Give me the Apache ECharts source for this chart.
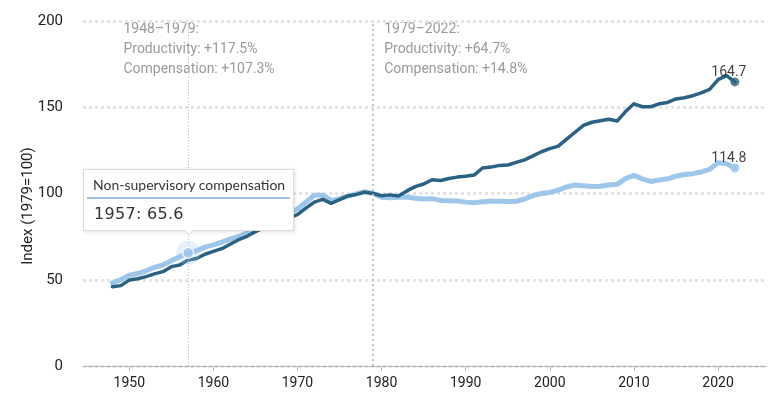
<!DOCTYPE html>
<html>
<head>
<meta charset="utf-8">
<script src="https://cdn.jsdelivr.net/npm/echarts@6/dist/echarts.min.js"></script>
<style>
  html, body { margin: 0; padding: 0; background: #fff; }
  #chart { width: 774px; height: 397px; }
</style>
</head>
<body>
<div id="chart"></div>
<script>
// years 1948..2022
const firstYear = 1948;
const productivity = [
  46.0, 46.6, 49.8, 50.6, 51.8, 53.4, 54.7, 57.6, 58.5, 61.4,
  62.3, 64.8, 66.4, 68.0, 70.6, 73.2, 75.2, 77.8, 80.2, 81.6,
  84.4, 86.0, 87.8, 91.5, 95.0, 96.6, 94.3, 96.5, 98.6, 99.5,
  100.8, 100.0, 98.7, 99.2, 98.5, 101.5, 104.0, 105.5, 108.0, 107.5,
  108.7, 109.5, 110.0, 110.7, 114.8, 115.3, 116.3, 116.5, 118.0, 119.5,
  121.8, 124.2, 126.0, 127.5, 131.5, 135.5, 139.5, 141.3, 142.2, 143.0,
  142.0, 147.5, 152.0, 150.3, 150.3, 152.0, 152.8, 154.8, 155.5, 156.7,
  158.3, 160.3, 166.0, 168.3, 164.7
];
const compensation = [
  48.2, 50.0, 52.7, 53.6, 55.2, 57.2, 58.6, 61.0, 63.3, 65.6,
  66.8, 68.9, 70.2, 71.8, 73.5, 75.2, 77.0, 79.2, 81.5, 83.5,
  86.5, 89.0, 91.0, 95.0, 99.0, 99.0, 96.0, 97.0, 98.5, 99.8,
  101.0, 100.0, 97.8, 97.5, 97.8, 98.0, 97.3, 96.8, 97.0, 96.0,
  95.8, 95.6, 95.0, 94.7, 95.2, 95.5, 95.5, 95.3, 95.5, 96.8,
  98.8, 100.0, 100.6, 102.0, 103.8, 104.9, 104.5, 104.0, 104.2, 104.9,
  105.3, 108.7, 110.5, 108.5, 107.0, 107.8, 108.5, 110.0, 111.0, 111.5,
  112.5, 114.0, 117.8, 117.3, 114.8
];
const years = productivity.map((_, i) => firstYear + i);
const xTicks = [1950, 1960, 1970, 1980, 1990, 2000, 2010, 2020];
const yTicks = [0, 50, 100, 150, 200];
const notes = [
  { year: 1948, lines: ['1948\u20131979:', 'Productivity: +117.5%', 'Compensation: +107.3%'] },
  { year: 1979, lines: ['1979\u20132022:', 'Productivity: +64.7%', 'Compensation: +14.8%'] }
];
const hoverYear = 1957;

const DARK = '#2b6283';
const LIGHT = '#9dc6ea';
const FONT = 'Roboto';

const chart = echarts.init(document.getElementById('chart'), null, { renderer: 'canvas' });

const last = years.length - 1;
const hi = years.indexOf(hoverYear);

const grid = { left: 83, right: 8, top: 21, bottom: 31 };
const xMin = 1944.5, xMax = 2025.7;
const xPix = y => grid.left + (y - xMin) / (xMax - xMin) * (774 - grid.left - grid.right);

const option = {
  animation: false,
  textStyle: { fontFamily: FONT },
  grid: grid,
  xAxis: {
    type: 'value',
    min: xMin,
    max: xMax,
    axisLine: { lineStyle: { color: '#b8b8b8', width: 1 } },
    axisTick: { show: true, length: 5, customValues: xTicks, lineStyle: { color: '#b8b8b8' } },
    axisLabel: {
      customValues: xTicks,
      formatter: v => String(v),
      color: '#222', fontSize: 14, margin: 10, fontFamily: FONT
    },
    splitLine: { show: false }
  },
  yAxis: {
    type: 'value',
    min: yTicks[0],
    max: yTicks[yTicks.length - 1],
    interval: 50,
    axisLine: { show: false },
    axisTick: { show: false },
    axisLabel: { color: '#222', fontSize: 15, margin: 20, fontFamily: FONT },
    splitLine: { lineStyle: { color: '#e3e3e3', width: 3, type: [3, 3] } }
  },
  tooltip: {
    trigger: 'item',
    triggerOn: 'none',
    alwaysShowContent: true,
    position: 'top',
    transitionDuration: 0,
    padding: 0,
    backgroundColor: '#fff',
    borderColor: '#dcdcdc',
    borderWidth: 1,
    extraCssText: 'box-shadow: 1px 1px 4px rgba(0,0,0,0.12); border-radius: 0; width: 211px; box-sizing: border-box;',
    formatter: function (p) {
      return '<div style="margin:0 3px;padding:6px 6px 4px 6px;border-bottom:2px solid ' + LIGHT +
        ';font:14px Lato, sans-serif;color:#333;white-space:nowrap;">Non-supervisory compensation</div>' +
        '<div style="padding:5px 10px 7px 10px;font:16px \'DejaVu Sans\', sans-serif;letter-spacing:0.3px;color:#333;">' +
        p.value[0] + ': ' + p.value[1].toFixed(1) + '</div>';
    }
  },
  graphic: notes.map(n => ({
    type: 'text',
    left: xPix(n.year) + 11,
    top: 19,
    silent: true,
    style: {
      text: n.lines.join('\n'),
      fill: '#9a9a9a',
      font: '14px ' + FONT,
      lineHeight: 20
    }
  })).concat([{
    type: 'text',
    x: 28,
    y: 206,
    rotation: Math.PI / 2,
    silent: true,
    style: {
      text: 'Index (1979=100)',
      fill: '#222',
      font: '15px ' + FONT,
      align: 'center',
      verticalAlign: 'middle'
    }
  }]),
  series: [
    {
      name: 'Non-supervisory compensation',
      type: 'line',
      data: years.map((y, i) => [y, compensation[i]]),
      showSymbol: false,
      lineStyle: { color: LIGHT, width: 5, cap: 'round', join: 'round' },
      itemStyle: { color: LIGHT },
      silent: true,
      z: 2,
      markLine: {
        silent: true,
        symbol: 'none',
        label: { show: false },
        data: [
          { xAxis: hoverYear, lineStyle: { color: '#bdbdbd', width: 1, type: [1, 2] } },
          { xAxis: 1979, lineStyle: { color: '#c4c4c4', width: 2, type: [2, 3] } }
        ]
      }
    },
    {
      name: 'Productivity',
      type: 'line',
      data: years.map((y, i) => [y, productivity[i]]),
      showSymbol: false,
      lineStyle: { color: DARK, width: 3.5, cap: 'round', join: 'round' },
      itemStyle: { color: DARK },
      silent: true,
      z: 3
    },
    {
      type: 'scatter',
      silent: true,
      symbolSize: 9,
      z: 4,
      data: [
        { value: [years[last], productivity[last]], itemStyle: { color: DARK } },
        { value: [years[last], compensation[last]], itemStyle: { color: LIGHT } }
      ],
      label: {
        show: true,
        position: 'top',
        distance: 0,
        offset: [-6, 2],
        color: '#111',
        fontSize: 14,
        fontFamily: FONT,
        formatter: p => p.value[1].toFixed(1)
      }
    },
    {
      name: 'Non-supervisory compensation',
      type: 'scatter',
      symbolSize: 24,
      z: 5,
      emphasis: { disabled: true },
      itemStyle: { color: 'rgba(157,198,234,0.3)' },
      data: [[years[hi], compensation[hi]]]
    },
    {
      type: 'scatter',
      silent: true,
      symbolSize: 11,
      z: 6,
      itemStyle: { color: LIGHT, borderColor: '#fff', borderWidth: 1.5 },
      data: [[years[hi], compensation[hi]]]
    }
  ]
};

chart.setOption(option);
chart.dispatchAction({ type: 'showTip', seriesIndex: 3, dataIndex: 0 });
</script>
</body>
</html>
